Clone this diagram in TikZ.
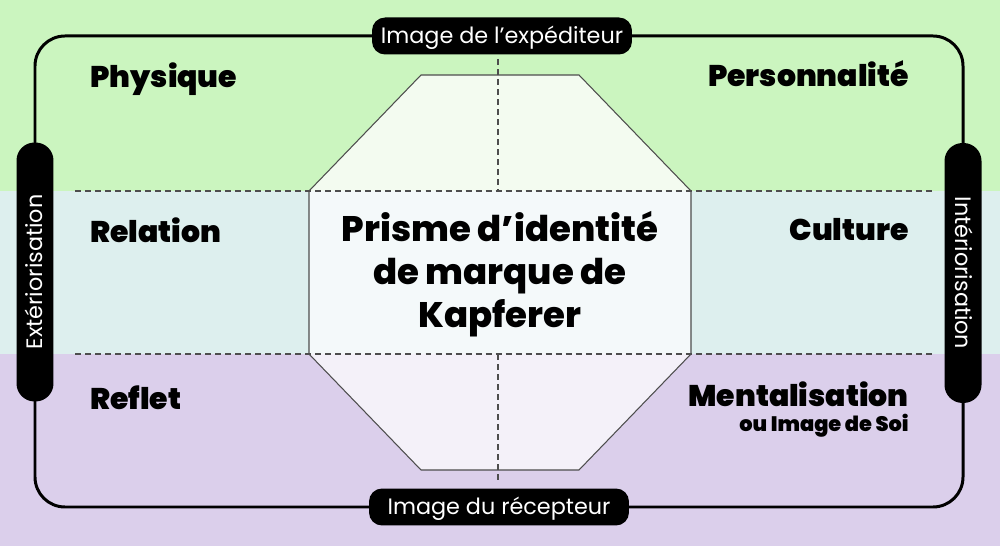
\documentclass[tikz,border=0pt]{standalone}
\usepackage{fontspec}
\setmainfont{Poppins}
\IfFontExistsTF{Poppins Black}
  {\newfontfamily\noirfont{Poppins Black}}
  {\newfontfamily\noirfont{Poppins}[FakeBold=2.5]}
\IfFontExistsTF{Poppins ExtraBold}
  {\newfontfamily\titrefont{Poppins ExtraBold}}
  {\newfontfamily\titrefont{Poppins}[UprightFont=*-Bold]}
\usetikzlibrary{positioning}

\definecolor{bandvert}{HTML}{CBF5BF}
\definecolor{bandbleu}{HTML}{DDEFEE}
\definecolor{bandmauve}{HTML}{DBCFEB}
\definecolor{octvert}{HTML}{F3FBF0}
\definecolor{octbleu}{HTML}{F4F9FA}
\definecolor{octmauve}{HTML}{F4F1F9}
\definecolor{trait}{HTML}{4D4D4D}

\tikzset{
  pilule/.style={fill=black, text=white, rounded corners=0.26cm,
    minimum height=0.74cm, inner sep=0pt, text height=8.8pt, text depth=0pt,
    font=\fontsize{12.7}{14}\selectfont},
  etiquette/.style={inner sep=0pt, font=\fontsize{17}{20}\selectfont\noirfont},
  pointille/.style={trait, line width=0.6pt, dash pattern=on 3.4pt off 2.3pt},
}

\begin{document}
\begin{tikzpicture}[x=0.02cm, y=-0.02cm]
    % --- dimensions (en px de l'image) ---
    \def\gauche{35}   % bord gauche du cadre
    \def\droite{963}  % bord droit du cadre
    \def\hautY{191}   % limite bande verte / bande bleue
    \def\basY{354}    % limite bande bleue / bande mauve

    \useasboundingbox (0,0) rectangle (1000,546);

    % --- bandes de fond ---
    \fill[bandvert] (0,0) rectangle (1000,\hautY);
    \fill[bandbleu] (0,\hautY) rectangle (1000,\basY);
    \fill[bandmauve] (0,\basY) rectangle (1000,546);

    % --- prisme (octogone) ---
    \fill[octvert] (421,75) -- (579,75) -- (691,\hautY) -- (309,\hautY) -- cycle;
    \fill[octbleu] (309,\hautY) rectangle (691,\basY);
    \fill[octmauve] (309,\basY) -- (691,\basY) -- (579,470) -- (421,470) -- cycle;
    \draw[trait, line width=0.6pt] (421,75) -- (579,75) -- (691,\hautY) -- (691,\basY)
        -- (579,470) -- (421,470) -- (309,\basY) -- (309,\hautY) -- cycle;

    % --- pointilles ---
    \draw[pointille] (75,\hautY) -- (933,\hautY);
    \draw[pointille] (75,\basY) -- (933,\basY);
    \draw[pointille] (498,59) -- (498,\hautY);
    \draw[pointille] (498,\basY) -- (498,480);

    % --- cadre ---
    \draw[line width=1.7pt, rounded corners=0.6cm] (\gauche,36) rectangle (\droite,507);

    % --- pilules ---
    \node[pilule, minimum width=5.2cm] (emetteur) at (502,36) {Image de l’expéditeur};
    \node[pilule, minimum width=5.2cm] (recepteur) at (499,507) {Image du récepteur};
    \node[pilule, minimum width=5.18cm, rounded corners=0.36cm, rotate=90]
        (exterieur) at (\gauche,272) {Extériorisation};
    \node[pilule, minimum width=5.2cm, rounded corners=0.36cm, rotate=-90]
        (interieur) at (\droite,273) {Intériorisation};

    % --- facettes ---
    \node[etiquette, anchor=base west] (physique) at (90,88) {Physique};
    \node[etiquette, anchor=base east] (personnalite) at (909,87) {Personnalité};
    \node[etiquette, anchor=base west] (relation) at (90,243) {Relation};
    \node[etiquette, anchor=base east] (culture) at (909,241) {Culture};
    \node[etiquette, anchor=base west] (reflet) at (90,410) {Reflet};
    \node[etiquette, anchor=base east] (mentalisation) at (909,407) {Mentalisation};
    \node[etiquette, anchor=base east, font=\fontsize{11.9}{14}\selectfont\noirfont]
        (soi) at (909,432) {ou Image de Soi};

    % --- titre central ---
    \node[align=center, inner sep=0pt, font=\fontsize{20.2}{24.6}\selectfont\titrefont]
        (titre) at (500,274) {Prisme d’identité\\de marque de\\Kapferer};
\end{tikzpicture}
\end{document}
